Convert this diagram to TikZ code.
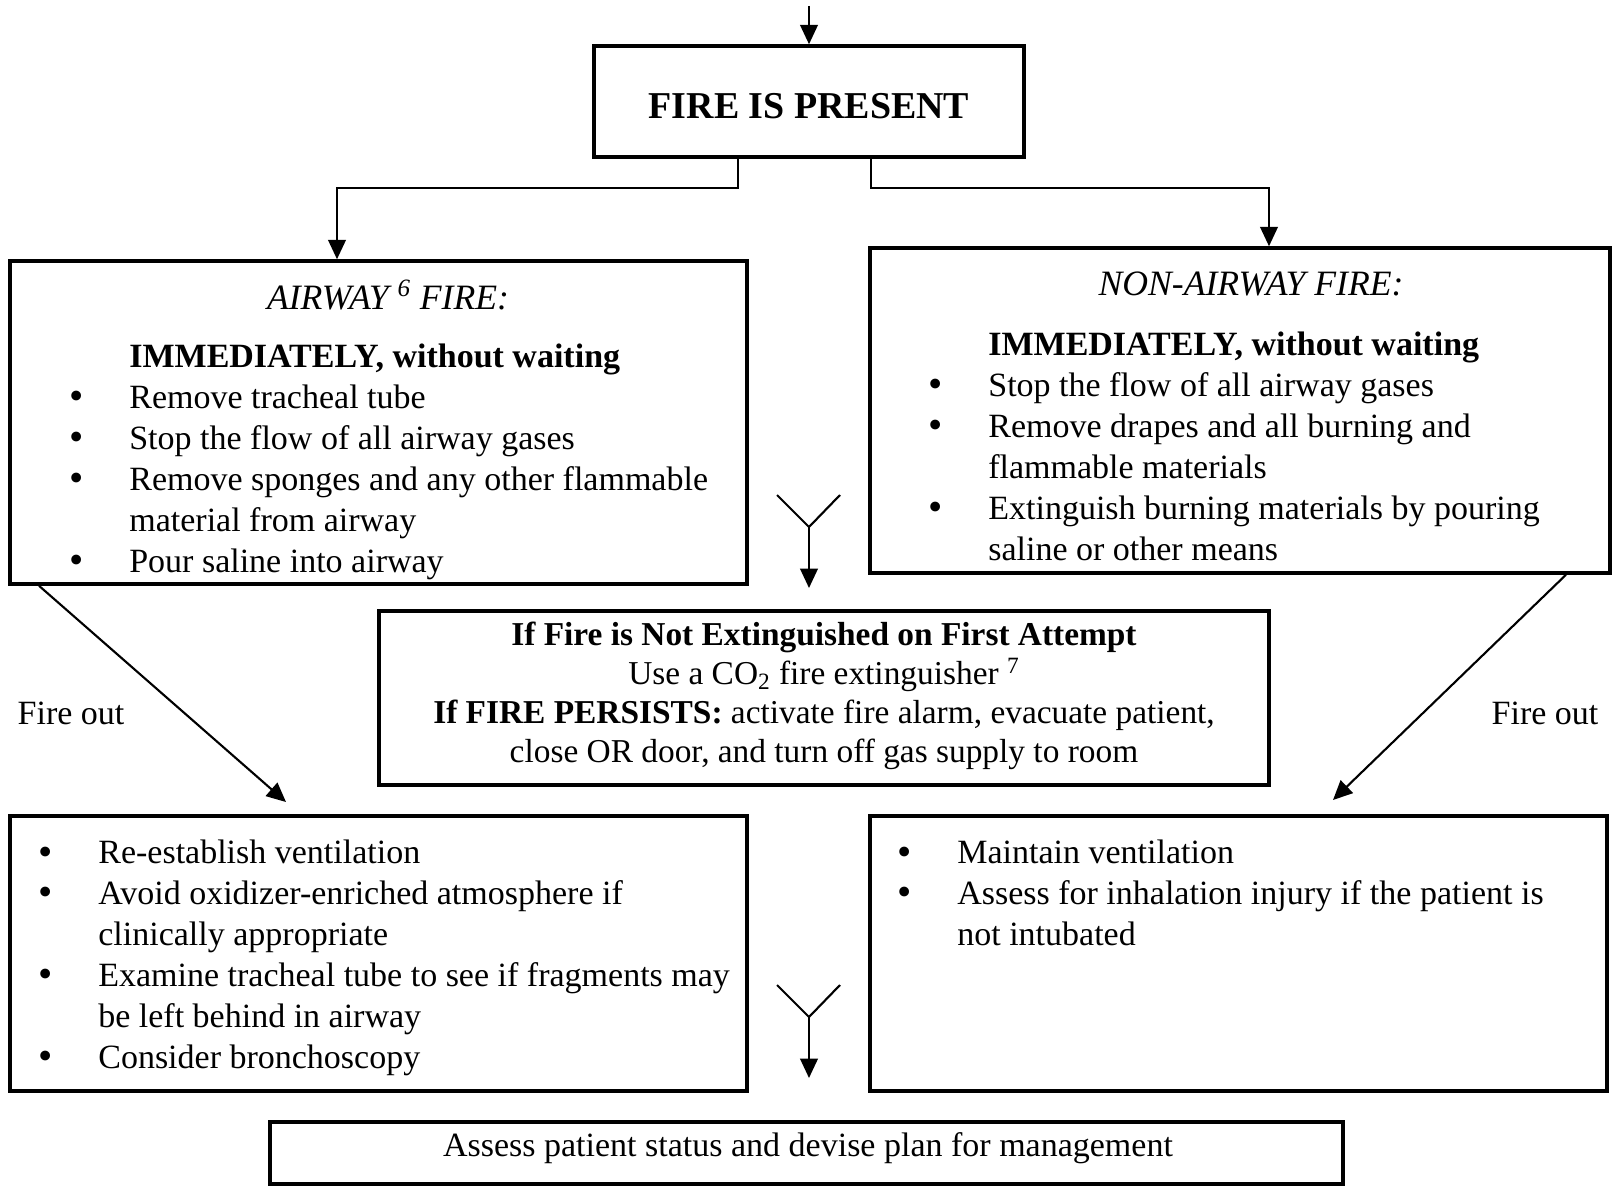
\documentclass[tikz,border=0pt]{standalone}
\usepackage{fontspec}
\setmainfont{Liberation Serif}
\usetikzlibrary{arrows.meta,fit}
\newcommand\bodysize{\fontsize{19.35pt}{23.3pt}\selectfont}
\newcommand\midsize{\fontsize{19pt}{22.2pt}\selectfont}
\newcommand\blt{\makebox[1.2cm][l]{\raisebox{-0.6pt}{\scalebox{1.2}{\textbullet}}}}
\newcommand\cont{\hspace*{1.2cm}}
\tikzset{
  frame/.style={draw,line width=2pt,inner sep=0pt},
  list/.style={font=\bodysize,align=left,inner sep=0pt,anchor=north west},
  head/.style={font=\fontsize{20.3pt}{24pt}\selectfont\itshape,inner sep=0pt},
  plain/.style={font=\bodysize,inner sep=0pt},
  arrow/.style={-{Triangle[length=11pt,width=10pt]},line width=1.2pt},
  link/.style={line width=1.2pt},
}
\begin{document}
\begin{tikzpicture}[x=0.02cm,y=-0.02cm]
  \useasboundingbox (0,0) rectangle (1613,1186);
  \node[frame,fit={(594,46) (1024,157)}] (fire) {};
  \node[font=\fontsize{21.6pt}{26pt}\selectfont\bfseries] (firetxt) at (809,106) {FIRE IS PRESENT};
  \node[frame,fit={(10,261) (747,584)}] (airway) {};
  \node[head] (airhead) at (388,295) {AIRWAY \textsuperscript{6} FIRE:};
  \node[list] (airlist) at (69,344) {\cont\textbf{IMMEDIATELY, without waiting}\\
    \blt Remove tracheal tube\\
    \blt Stop the flow of all airway gases\\
    \blt Remove sponges and any other flammable\\
    \cont material from airway\\
    \blt Pour saline into airway};
  \node[frame,fit={(870,248) (1610,573)}] (nonair) {};
  \node[head] (nonhead) at (1251,284) {NON-AIRWAY FIRE:};
  \node[list] (nonlist) at (928,332) {\cont\textbf{IMMEDIATELY, without waiting}\\
    \blt Stop the flow of all airway gases\\
    \blt Remove drapes and all burning and\\
    \cont flammable materials\\
    \blt Extinguish burning materials by pouring\\
    \cont saline or other means};
  \node[frame,fit={(379,611) (1269,785)}] (retry) {};
  \node[font=\midsize,align=center,inner sep=0pt] (retrytxt) at (824,696) {\textbf{If Fire is Not Extinguished on First Attempt}\\
    Use a CO\textsubscript{2} fire extinguisher \textsuperscript{7}\\
    \textbf{If FIRE PERSISTS:} activate fire alarm, evacuate patient,\\
    close OR door, and turn off gas supply to room};
  \node[plain] (outl) at (71,713) {Fire out};
  \node[plain] (outr) at (1545,713) {Fire out};
  \node[frame,fit={(10,816) (747,1091)}] (airafter) {};
  \node[list] (airafterlist) at (38,840) {\blt Re-establish ventilation\\
    \blt Avoid oxidizer-enriched atmosphere if\\
    \cont clinically appropriate\\
    \blt Examine tracheal tube to see if fragments may\\
    \cont be left behind in airway\\
    \blt Consider bronchoscopy};
  \node[frame,fit={(870,816) (1607,1091)}] (nonafter) {};
  \node[list] (nonafterlist) at (897,840) {\blt Maintain ventilation\\
    \blt Assess for inhalation injury if the patient is\\
    \cont not intubated};
  \node[frame,fit={(270,1122) (1343,1184)}] (assess) {};
  \node[plain] (assesstxt) at (808,1148) {Assess patient status and devise plan for management};
  \coordinate (entry) at (809,6);
  \draw[arrow] (entry) -- (fire);
  \draw[arrow] (738,0 |- fire.south) |- (337,188) -- (337,0 |- airway.north);
  \draw[arrow] (871,0 |- fire.south) |- (1269,188) -- (1269,0 |- nonair.north);
  \coordinate (y1l) at (777,495);
  \coordinate (y1r) at (840,495);
  \coordinate (y1) at (809,527);
  \coordinate (y1e) at (809,588);
  \draw[link] (y1l) -- (y1) -- (y1r);
  \draw[arrow] (y1) -- (y1e);
  \coordinate (y2l) at (777,985);
  \coordinate (y2r) at (840,985);
  \coordinate (y2) at (809,1017);
  \coordinate (y2e) at (809,1078);
  \draw[link] (y2l) -- (y2) -- (y2r);
  \draw[arrow] (y2) -- (y2e);
  \coordinate (airdone) at (286,802);
  \coordinate (nondone) at (1333,800);
  \draw[arrow] (39,0 |- airway.south) -- (airdone);
  \draw[arrow] (1566,0 |- nonair.south) -- (nondone);
\end{tikzpicture}
\end{document}
